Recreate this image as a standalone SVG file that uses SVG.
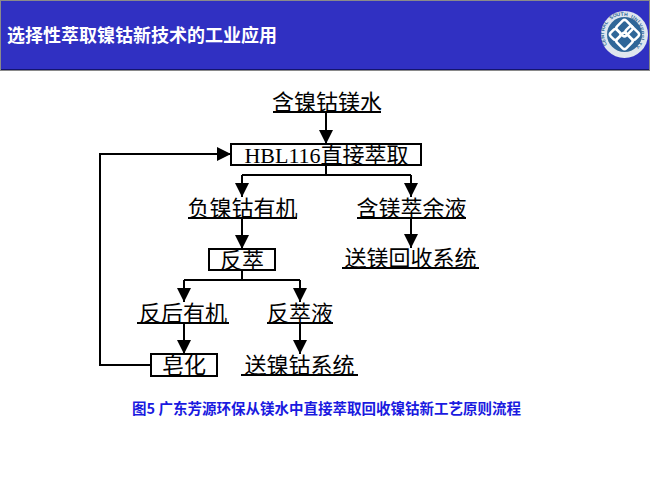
<svg xmlns="http://www.w3.org/2000/svg" width="650" height="487" viewBox="0 0 650 487">
<style>
.cjk{font-family:"Noto Sans CJK SC","Liberation Sans",sans-serif}
.t{font-family:"Liberation Serif","Noto Sans CJK SC",serif;font-size:22px;fill:#000;text-anchor:middle}
.u{stroke:#000;stroke-width:2;fill:none}
.box{fill:#fff;stroke:#000;stroke-width:2}
.c{stroke:#000;stroke-width:2;fill:none}
</style>
<defs>
<marker id="a" markerUnits="userSpaceOnUse" markerWidth="15" markerHeight="14" refX="14" refY="7" orient="auto"><path d="M0 0L14 7L0 14Z" fill="#000"/></marker>
</defs>
<rect width="650" height="487" fill="#fff"/>
<g id="header">
<rect width="650" height="71" fill="#8a8a8a"/>
<rect x="1" y="1" width="648" height="68.500" fill="#3030c2"/>
<rect x="1" y="69" width="648" height="1" fill="#14146e"/>
<text x="7" y="42" class="cjk" font-size="18" font-weight="700" fill="#fff">选择性萃取镍钴新技术的工业应用</text>
</g>
<g id="logo">
<circle cx="624.500" cy="34.500" r="23.500" fill="#dfe6ee"/>
<circle cx="624.500" cy="34.500" r="17.500" fill="#2f6698"/>
<g transform="rotate(45 624.500 34.500)" fill="none" stroke="#fff" stroke-width="2.500">
<rect x="613.500" y="23.500" width="13" height="13" rx="2.500"/>
<rect x="622.500" y="32.500" width="13" height="13" rx="2.500"/>
<rect x="622.500" y="23.500" width="13" height="9" rx="2.500"/>
<rect x="613.500" y="36.500" width="9" height="9" rx="2.500"/>
</g>
<text font-family="Liberation Sans,sans-serif" font-size="5" font-weight="700" fill="#2f6698" text-anchor="middle" x="609.100 607.400 606.300 605.800 606 606.800 608.300 610.300 612.800 615.700 618.900 622.300 625.700 629.100 632.300 635.200 637.700 639.700 641.200 642 642.200 641.700 640.600 638.900" y="44.400 41.400 38.200 34.800 31.300 28 24.800 22 19.700 17.800 16.500 15.900 15.900 16.500 17.800 19.700 22 24.800 28 31.300 34.800 38.200 41.400 44.400" rotate="-125 -114 -103 -92 -81 -71 -60 -49 -38 -27 -16 -5 5 16 27 38 49 60 71 81 92 103 114 125">CENTRAL SOUTH UNIVERSITY</text>
</g>
<g id="connectors">
<path class="c" marker-end="url(#a)" d="M326 112V144"/>
<path class="c" d="M326 165V175M242 175H411"/>
<path class="c" marker-end="url(#a)" d="M242 175V197"/>
<path class="c" marker-end="url(#a)" d="M411 175V197"/>
<path class="c" marker-end="url(#a)" d="M242 218V249"/>
<path class="c" marker-end="url(#a)" d="M411 218V248"/>
<path class="c" d="M242 270V280M184 280H300"/>
<path class="c" marker-end="url(#a)" d="M184 280V302"/>
<path class="c" marker-end="url(#a)" d="M300 280V302"/>
<path class="c" marker-end="url(#a)" d="M184 323V354"/>
<path class="c" marker-end="url(#a)" d="M300 323V354"/>
<path class="c" marker-end="url(#a)" d="M151 365H100V154H231"/>
</g>
<g id="n1"><text class="t" x="327" y="110">含镍钴镁水</text><path class="u" d="M273 112H381"/></g>
<g id="n2"><rect class="box" x="231" y="144" width="190" height="21"/><text class="t" x="326.500" y="163">HBL116直接萃取</text></g>
<g id="n3"><text class="t" x="242.500" y="216">负镍钴有机</text><path class="u" d="M188 218H297"/></g>
<g id="n4"><text class="t" x="411.500" y="216">含镁萃余液</text><path class="u" d="M357 218H466"/></g>
<g id="n5"><rect class="box" x="209" y="249" width="66" height="21"/><text class="t" x="242" y="268">反萃</text></g>
<g id="n6"><text class="t" x="410.500" y="266">送镁回收系统</text><path class="u" d="M342 268H479"/></g>
<g id="n7"><text class="t" x="183" y="321">反后有机</text><path class="u" d="M137 323H229"/></g>
<g id="n8"><text class="t" x="300" y="321">反萃液</text><path class="u" d="M267 323H333"/></g>
<g id="n9"><rect class="box" x="151" y="354" width="66" height="22"/><text class="t" x="184" y="373">皂化</text></g>
<g id="n10"><text class="t" x="299.500" y="373">送镍钴系统</text><path class="u" d="M241 375H358"/></g>
<text id="caption" x="326.500" y="414" class="cjk" font-size="14.500" font-weight="700" fill="#1a1ae0" text-anchor="middle">图5 广东芳源环保从镁水中直接萃取回收镍钴新工艺原则流程</text>
</svg>
